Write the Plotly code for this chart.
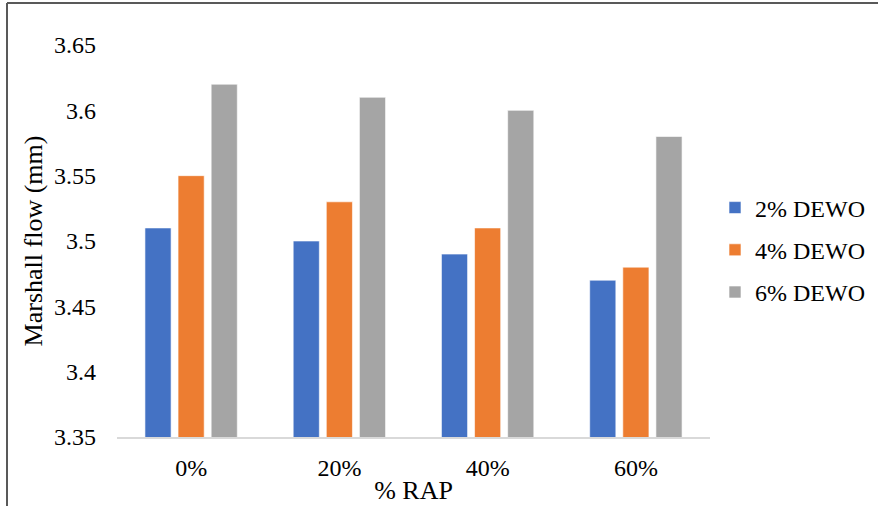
import plotly.graph_objects as go

categories = ["0%", "20%", "40%", "60%"]
series_names = ["2% DEWO", "4% DEWO", "6% DEWO"]
dewo_2 = [3.51, 3.50, 3.49, 3.47]
dewo_4 = [3.55, 3.53, 3.51, 3.48]
dewo_6 = [3.62, 3.61, 3.60, 3.58]
colors = ["#4472C4", "#ED7D31", "#A5A5A5"]
y_tick_vals = [3.35, 3.40, 3.45, 3.50, 3.55, 3.60, 3.65]
y_tick_text = ["3.35", "3.4", "3.45", "3.5", "3.55", "3.6", "3.65"]

W, H = 878, 506
L, R, T, B = 117, 710, 45, 437  # plot area pixel bounds

fig = go.Figure()
for i, (name, vals) in enumerate(zip(series_names, [dewo_2, dewo_4, dewo_6])):
    fig.add_trace(go.Bar(
        x=categories, y=vals, name=name, legendgroup=name,
        marker=dict(color=colors[i], line=dict(color="rgba(255,255,255,0.6)", width=1)),
    ))

font = "Liberation Serif, Times New Roman, serif"

def px_x(x):
    return (x - L) / (R - L)

def px_y(y):
    return (B - y) / (B - T)

fig.update_layout(
    width=W, height=H,
    margin=dict(l=L, r=W - R, t=T, b=H - B, autoexpand=False),
    paper_bgcolor="white", plot_bgcolor="white",
    barmode="group", bargap=0.33, bargroupgap=0.21,
    font=dict(family=font, size=24, color="#000000"),
    legend=dict(x=px_x(715), y=px_y(250), xanchor="left", yanchor="middle",
                tracegroupgap=8, font=dict(size=24),
                bgcolor="rgba(0,0,0,0)"),
    xaxis=dict(showgrid=False, showline=True, linecolor="#D9D9D9", linewidth=2,
               ticks="", ticklabelstandoff=8,
               title=dict(text="% RAP", standoff=1, font=dict(size=26))),
    yaxis=dict(range=[3.35, 3.65], tickvals=y_tick_vals, ticktext=y_tick_text,
               showgrid=False, showline=False, zeroline=False, ticks="",
               ticklabelstandoff=20,
               title=dict(text="Marshall flow (mm)", standoff=3, font=dict(size=26))),
    shapes=[
        dict(type="line", xref="paper", yref="paper",
             x0=px_x(7), x1=px_x(7), y0=px_y(3), y1=px_y(H + 5),
             line=dict(color="#595959", width=2)),
        dict(type="line", xref="paper", yref="paper",
             x0=px_x(7), x1=px_x(W + 5), y0=px_y(3), y1=px_y(3),
             line=dict(color="#595959", width=2)),
    ],
)

fig.write_html("out.html", config={"displayModeBar": False},
               post_script="document.body.style.margin='0';document.body.style.overflow='hidden';")
